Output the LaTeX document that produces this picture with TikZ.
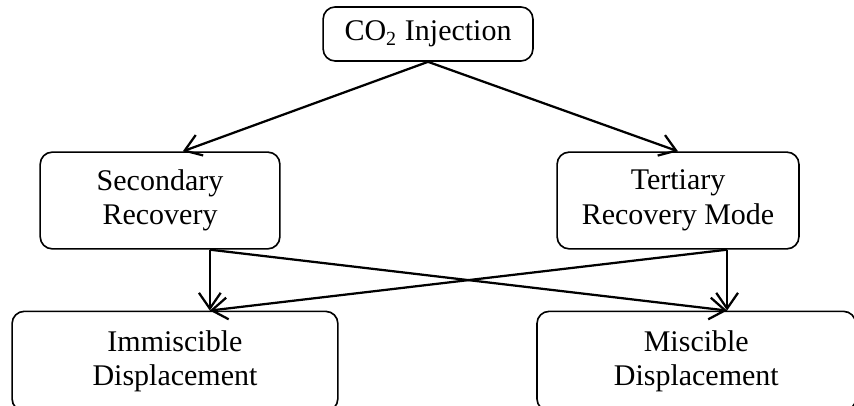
\documentclass[tikz,border=0pt]{standalone}
\usepackage{fontspec}
\setmainfont{Liberation Serif}
\usepackage{tikz}
\usetikzlibrary{arrows.meta,positioning}

\begin{document}
\begin{tikzpicture}[
    box/.style={draw, line width=0.65pt, rounded corners=0.17cm, align=center,
        font=\fontsize{12}{13.8}\selectfont},
    flow/.style={line width=0.9pt, -{Straight Barb[length=6.3pt,width=8.7pt]}}
]
    \useasboundingbox (0,0) rectangle (12.007,5.708);

    % top and middle level
    \node[box, minimum width=2.95cm, minimum height=0.76cm] (co2) at (6.018,5.230) {CO\textsubscript{2} Injection};
    \node[box, minimum width=3.37cm, minimum height=1.36cm] (sec) at (2.25,2.889) {Secondary\\Recovery};
    \node[box, minimum width=3.40cm, minimum height=1.36cm] (ter) at (9.533,2.889) {Tertiary\\Recovery Mode};

    % bottom level, partly outside the page
    \node[box, minimum width=4.58cm, minimum height=1.40cm] (imm) at (2.46,0.63) {Immiscible\\Displacement};
    \node[box, minimum width=4.48cm, minimum height=1.40cm] (mis) at (9.79,0.63) {Miscible\\Displacement};

    \coordinate (sec-out) at ([xshift=0.70cm]sec.south);
    \coordinate (ter-out) at ([xshift=0.69cm]ter.south);
    \coordinate (imm-in) at (sec-out |- imm.north);
    \coordinate (mis-in) at (ter-out |- mis.north);

    \draw[flow] (co2.south) -- ([xshift=0.32cm]sec.north);
    \draw[flow] (co2.south) -- (ter.north);

    \draw[flow] (sec-out) -- (imm-in);
    \draw[flow] (sec-out) -- (mis-in);
    \draw[flow] (ter-out) -- (mis-in);
    \draw[flow] (ter-out) -- (imm-in);
\end{tikzpicture}
\end{document}
